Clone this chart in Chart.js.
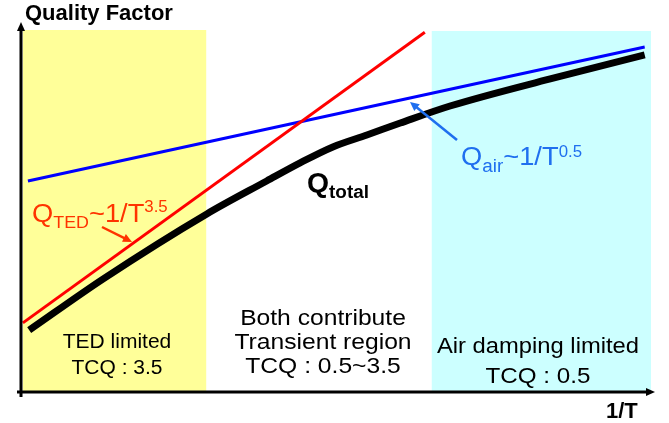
<!DOCTYPE html>
<html>
<head>
  <title>Quality Factor vs 1/T</title>
  <script src="https://cdn.jsdelivr.net/npm/chart.js"></script>
  <style>
    body { margin: 0; background: #fff; }
  </style>
</head>
<body>
  <canvas id="qChart" width="669" height="423"></canvas>

  <script>
    // values in arbitrary units: x = 1/T, y = log Q (schematic)
    const tedX = [0.3, 64.1];
    const tedY = [19.1, 99.4];
    const airX = [1.1, 99.0];
    const airY = [58.3, 95.3];
    const totalX = [1.3, 13.0, 29.5, 39.0, 44.3, 49.5, 54.9, 60.2, 68.1, 84.0, 99.0];
    const totalY = [17.1, 31.2, 49.2, 58.3, 63.3, 67.7, 71.0, 74.3, 79.0, 86.5, 93.1];

    // shaded regions along 1/T
    const tedRegion = [0.3, 29.4];
    const airRegion = [65.2, 100];

    const FONT = '"Liberation Sans", Arial, sans-serif';

    function pts(xs, ys) {
      return xs.map((x, i) => ({ x: x, y: ys[i] }));
    }

    function arrow(ctx, x1, y1, x2, y2, color, width, head) {
      const a = Math.atan2(y2 - y1, x2 - x1);
      ctx.save();
      ctx.strokeStyle = color;
      ctx.fillStyle = color;
      ctx.lineWidth = width;
      ctx.beginPath();
      ctx.moveTo(x1, y1);
      ctx.lineTo(x2 - Math.cos(a) * head * 0.8, y2 - Math.sin(a) * head * 0.8);
      ctx.stroke();
      ctx.beginPath();
      ctx.moveTo(x2, y2);
      ctx.lineTo(x2 - head * Math.cos(a - 0.45), y2 - head * Math.sin(a - 0.45));
      ctx.lineTo(x2 - head * Math.cos(a + 0.45), y2 - head * Math.sin(a + 0.45));
      ctx.closePath();
      ctx.fill();
      ctx.restore();
    }

    // draw pieces of text one after another (for sub/superscripts)
    function runs(ctx, x, y, color, sx, parts) {
      ctx.save();
      ctx.translate(x, y);
      ctx.scale(sx, 1);
      ctx.fillStyle = color;
      ctx.textBaseline = 'alphabetic';
      ctx.textAlign = 'left';
      let cx = 0;
      parts.forEach(p => {
        ctx.font = p[1];
        ctx.fillText(p[0], cx, p[2] || 0);
        cx += ctx.measureText(p[0]).width;
      });
      ctx.restore();
    }

    // centred label, slightly widened like the original artwork
    function centered(ctx, text, x, y, size, sx) {
      ctx.save();
      ctx.translate(x, y);
      ctx.scale(sx, 1);
      ctx.fillStyle = '#000';
      ctx.textAlign = 'center';
      ctx.textBaseline = 'alphabetic';
      ctx.font = size + 'px ' + FONT;
      ctx.fillText(text, 0, 0);
      ctx.restore();
    }

    const regionsPlugin = {
      id: 'regions',
      beforeDatasetsDraw(chart) {
        const ctx = chart.ctx;
        const xs = chart.scales.x, ys = chart.scales.y;
        const top = ys.getPixelForValue(100), bottom = ys.getPixelForValue(0);
        ctx.save();
        ctx.fillStyle = '#FFFF99';
        let l = xs.getPixelForValue(tedRegion[0]), r = xs.getPixelForValue(tedRegion[1]);
        ctx.fillRect(l, top, r - l, bottom - top);
        ctx.fillStyle = '#CCFFFF';
        l = xs.getPixelForValue(airRegion[0]); r = xs.getPixelForValue(airRegion[1]);
        ctx.fillRect(l, top + 1, r - l, bottom - top - 1);
        ctx.restore();
      }
    };

    const decorPlugin = {
      id: 'decor',
      afterDatasetsDraw(chart) {
        const ctx = chart.ctx;
        const xs = chart.scales.x, ys = chart.scales.y;
        const x0 = xs.getPixelForValue(0), y0 = ys.getPixelForValue(0);

        // axes with arrow heads
        ctx.save();
        ctx.strokeStyle = '#000';
        ctx.lineWidth = 3;
        ctx.beginPath();
        ctx.moveTo(x0, y0 + 5);
        ctx.lineTo(x0, 28);
        ctx.moveTo(x0 - 4, y0);
        ctx.lineTo(xs.getPixelForValue(100) - 2, y0);
        ctx.stroke();
        ctx.fillStyle = '#000';
        ctx.beginPath();
        ctx.moveTo(x0, 22); ctx.lineTo(x0 - 4, 31); ctx.lineTo(x0 + 4, 31); ctx.closePath(); ctx.fill();
        const xe = xs.getPixelForValue(100) + 4;
        ctx.beginPath();
        ctx.moveTo(xe, y0); ctx.lineTo(xe - 9, y0 - 4); ctx.lineTo(xe - 9, y0 + 4); ctx.closePath(); ctx.fill();
        ctx.restore();

        // axis titles
        ctx.save();
        ctx.fillStyle = '#000';
        ctx.font = 'bold 22px ' + FONT;
        ctx.textBaseline = 'alphabetic';
        ctx.fillText('Quality Factor', 25, 20);
        ctx.fillText('1/T', 606, 418);
        ctx.restore();

        // region labels
        centered(ctx, 'TED limited', 117, 348, 20, 1.05);
        centered(ctx, 'TCQ : 3.5', 117, 374, 20, 1.05);
        centered(ctx, 'Both contribute', 323, 325, 22, 1.12);
        centered(ctx, 'Transient region', 323, 349, 22, 1.12);
        centered(ctx, 'TCQ : 0.5~3.5', 323, 373, 22, 1.12);
        centered(ctx, 'Air damping limited', 538, 353, 22, 1.08);
        centered(ctx, 'TCQ : 0.5', 538, 383, 22, 1.1);

        // curve labels
        runs(ctx, 32, 222, '#FF3300', 1.05, [
          ['Q', '26px ' + FONT],
          ['TED', '17px ' + FONT, 6],
          ['~1/T', '26px ' + FONT],
          ['3.5', '16px ' + FONT, -10]
        ]);
        runs(ctx, 461, 165, '#1F6FEF', 1.05, [
          ['Q', '26px ' + FONT],
          ['air', '18px ' + FONT, 7],
          ['~1/T', '26px ' + FONT],
          ['0.5', '16px ' + FONT, -8]
        ]);
        runs(ctx, 307, 192, '#000', 1.05, [
          ['Q', 'bold 27px ' + FONT],
          ['total', 'bold 18px ' + FONT, 6]
        ]);

        arrow(ctx, 102, 227, 132, 242, '#FF3300', 2.5, 10);
        arrow(ctx, 457, 140, 410, 102, '#1F6FEF', 2.5, 10);
      }
    };

    new Chart(document.getElementById('qChart'), {
      type: 'scatter',
      data: {
        datasets: [
          {
            label: 'Q_TED',
            data: pts(tedX, tedY),
            showLine: true,
            borderColor: '#FF0000',
            borderWidth: 3,
            pointRadius: 0
          },
          {
            label: 'Q_air',
            data: pts(airX, airY),
            showLine: true,
            borderColor: '#0000FF',
            borderWidth: 3,
            pointRadius: 0
          },
          {
            label: 'Q_total',
            data: pts(totalX, totalY),
            showLine: true,
            borderColor: '#000000',
            borderWidth: 7,
            pointRadius: 0,
            cubicInterpolationMode: 'monotone'
          }
        ]
      },
      options: {
        responsive: false,
        animation: false,
        layout: { padding: { left: 21, right: 18, top: 30, bottom: 31 } },
        scales: {
          x: { type: 'linear', min: 0, max: 100, display: false },
          y: { min: 0, max: 100, display: false }
        },
        plugins: {
          legend: { display: false },
          tooltip: { enabled: false }
        }
      },
      plugins: [regionsPlugin, decorPlugin]
    });
  </script>
</body>
</html>
